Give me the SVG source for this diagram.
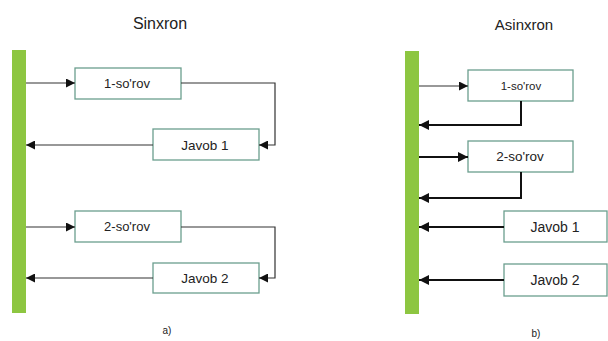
<svg xmlns="http://www.w3.org/2000/svg" width="608" height="341" viewBox="0 0 608 341">
<defs>
<style>
.bar{fill:#8dc641}
.box{fill:#fff;stroke:#6b9e8e;stroke-width:1.3}
.t{font-family:"Liberation Sans",Arial,sans-serif;fill:#222;text-anchor:middle}
.c1{fill:none;stroke:#333;stroke-width:1.2}
.c2{fill:none;stroke:#111;stroke-width:2}
</style>
<marker id="ah" viewBox="0 0 10 10" refX="10" refY="5" markerWidth="9" markerHeight="9" markerUnits="userSpaceOnUse" orient="auto"><path d="M0,0 L10,5 L0,10 Z" fill="#111"/></marker>
<marker id="ah2" viewBox="0 0 10 10" refX="10" refY="5" markerWidth="10" markerHeight="10" markerUnits="userSpaceOnUse" orient="auto"><path d="M0,0 L10,5 L0,10 Z" fill="#111"/></marker>
</defs>
<rect width="608" height="341" fill="#fff"/>
<text class="t" x="160" y="29" font-size="16">Sinxron</text>
<text class="t" x="524" y="30" font-size="15">Asinxron</text>
<g id="barA"><rect class="bar" x="12" y="50" width="14" height="263"/></g>
<g id="barB"><rect class="bar" x="405" y="51" width="14" height="263"/></g>
<g id="a-req1"><rect class="box" x="75" y="68" width="106" height="31"/><text class="t" x="127" y="88" font-size="13">1-so'rov</text></g>
<g id="a-res1"><rect class="box" x="153" y="129" width="106" height="31"/><text class="t" x="205" y="150" font-size="13.5">Javob 1</text></g>
<g id="a-req2"><rect class="box" x="75" y="211" width="106" height="31"/><text class="t" x="127" y="231" font-size="13">2-so'rov</text></g>
<g id="a-res2"><rect class="box" x="153" y="263" width="106" height="30"/><text class="t" x="205" y="283" font-size="13.5">Javob 2</text></g>
<g id="b-req1"><rect class="box" x="468" y="70" width="105" height="31"/><text class="t" x="521" y="90" font-size="11.5">1-so'rov</text></g>
<g id="b-req2"><rect class="box" x="468" y="141" width="105" height="31"/><text class="t" x="520" y="161" font-size="13.5">2-so'rov</text></g>
<g id="b-res1"><rect class="box" x="504" y="211" width="103" height="31"/><text class="t" x="555" y="232" font-size="14">Javob 1</text></g>
<g id="b-res2"><rect class="box" x="504" y="264" width="103" height="32"/><text class="t" x="555" y="285" font-size="14">Javob 2</text></g>
<g id="connectors">
<path class="c1" d="M26,83 H75" marker-end="url(#ah)"/>
<path class="c1" d="M181,83 H275 V145 H259" marker-end="url(#ah)"/>
<path class="c1" d="M153,145 H26" marker-end="url(#ah)"/>
<path class="c1" d="M26,227 H75" marker-end="url(#ah)"/>
<path class="c1" d="M181,227 H275 V278 H259" marker-end="url(#ah)"/>
<path class="c1" d="M153,278 H26" marker-end="url(#ah)"/>
<path class="c1" d="M419,86 H468" marker-end="url(#ah)"/>
<path class="c2" d="M521,101 V125 H419" marker-end="url(#ah2)"/>
<path class="c2" d="M419,157 H468" marker-end="url(#ah2)"/>
<path class="c2" d="M521,172 V198 H419" marker-end="url(#ah2)"/>
<path class="c2" d="M504,227 H419" marker-end="url(#ah2)"/>
<path class="c2" d="M504,280 H419" marker-end="url(#ah2)"/>
</g>
<text class="t" x="167" y="334" font-size="10">a)</text>
<text class="t" x="536" y="337" font-size="10">b)</text>
</svg>
